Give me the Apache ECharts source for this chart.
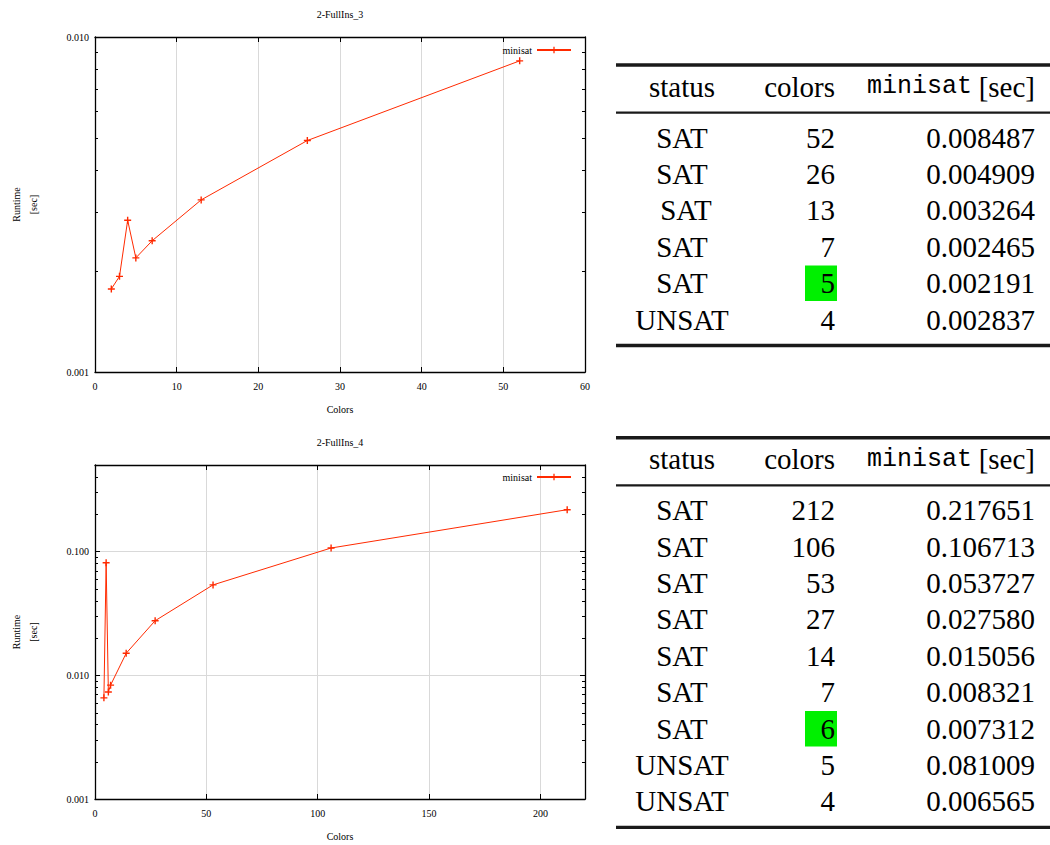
<!DOCTYPE html>
<html><head><meta charset="utf-8">
<script src="https://cdn.jsdelivr.net/npm/echarts@6/dist/echarts.min.js"></script>
<style>html,body{margin:0;padding:0;background:#fff;}#main{width:1050px;height:845px;}</style>
</head><body><div id="main"></div>
<script>
// ---------- texts ----------
const title1 = '2-FullIns_3';
const title2 = '2-FullIns_4';
const xName = 'Colors';
const yNameLine1 = 'Runtime';
const yNameLine2 = '[sec]';
const seriesName = 'minisat';

// ---------- chart data ----------
const chart1Colors = [2, 3, 4, 5, 7, 13, 26, 52];
const chart1Runtime = [0.00177, 0.00193, 0.002837, 0.002191, 0.002465, 0.003264, 0.004909, 0.008487];
const chart2Colors = [4, 5, 6, 7, 14, 27, 53, 106, 212];
const chart2Runtime = [0.006565, 0.081009, 0.007312, 0.008321, 0.015056, 0.027580, 0.053727, 0.106713, 0.217651];

// minor tick values of the log axes
const minorTicks1 = [0.002, 0.003, 0.004, 0.005, 0.006, 0.007, 0.008, 0.009];
const minorTicks2 = [0.002, 0.003, 0.004, 0.005, 0.006, 0.007, 0.008, 0.009,
                     0.02, 0.03, 0.04, 0.05, 0.06, 0.07, 0.08, 0.09,
                     0.2, 0.3, 0.4];

// ---------- table data ----------
const tableHeaderStatus = 'status';
const tableHeaderColors = 'colors';
const tableHeaderSolver = 'minisat';
const tableHeaderUnit = '[sec]';
const table1Status = ['SAT', 'SAT', 'SAT', 'SAT', 'SAT', 'UNSAT'];
const table1Colors = ['52', '26', '13', '7', '5', '4'];
const table1Runtime = ['0.008487', '0.004909', '0.003264', '0.002465', '0.002191', '0.002837'];
const table1HighlightRow = 4;
const table2Status = ['SAT', 'SAT', 'SAT', 'SAT', 'SAT', 'SAT', 'SAT', 'UNSAT', 'UNSAT'];
const table2Colors = ['212', '106', '53', '27', '14', '7', '6', '5', '4'];
const table2Runtime = ['0.217651', '0.106713', '0.053727', '0.027580', '0.015056', '0.008321', '0.007312', '0.081009', '0.006565'];
const table2HighlightRow = 6;

// ---------- styling ----------
const SERIF = 'Liberation Serif';
const MONO = 'Liberation Mono';
const LINE_COLOR = '#ff2a00';
const GRID_COLOR = '#d9d9d9';
const PLUS = 'path://M4,0H6V4H10V6H6V10H4V6H0V4H4Z';

const grids = [
  { left: 95, top: 37, width: 490, height: 335 },
  { left: 95, top: 465, width: 490, height: 334 }
];

function isPow10(v) {
  const l = Math.log10(v);
  return Math.abs(l - Math.round(l)) < 1e-6;
}

function xAxes(gridIndex, max, interval) {
  const common = {
    type: 'value', gridIndex, min: 0, max, interval,
    axisLine: { show: true, onZero: false, lineStyle: { color: '#000', width: 1.3 } },
    axisTick: { show: true, inside: true, length: 5, lineStyle: { color: '#000', width: 1 } }
  };
  return [
    Object.assign({}, common, {
      position: 'bottom',
      axisLabel: { show: true, margin: 9, fontFamily: SERIF, fontSize: 10, color: '#000', showMaxLabel: max % interval === 0 },
      splitLine: { show: true, lineStyle: { color: GRID_COLOR, width: 1 } }
    }),
    Object.assign({}, common, {
      position: 'top', axisLabel: { show: false }, splitLine: { show: false }
    })
  ];
}

function yAxes(gridIndex, min, max) {
  const common = {
    type: 'log', logBase: 10, gridIndex, min, max,
    axisLine: { show: true, onZero: false, lineStyle: { color: '#000', width: 1.3 } },
    axisTick: { show: true, inside: true, length: 5, lineStyle: { color: '#000', width: 1 } }
  };
  return [
    Object.assign({}, common, {
      position: 'left',
      axisLabel: {
        show: true, margin: 6, fontFamily: SERIF, fontSize: 10, color: '#000',
        formatter: v => isPow10(v) ? v.toFixed(3) : ''
      },
      splitLine: { show: true, lineStyle: { color: GRID_COLOR, width: 1 } }
    }),
    Object.assign({}, common, {
      position: 'right', axisLabel: { show: false }, splitLine: { show: false }
    })
  ];
}

function minorTickSeries(xIdx, yIdx, values) {
  return {
    type: 'custom', xAxisIndex: xIdx, yAxisIndex: yIdx, silent: true, z: 5,
    data: values.map(v => [0, v]),
    renderItem: function (params, api) {
      const p = api.coord([0, api.value(1)]);
      const cs = params.coordSys;
      const y = Math.round(p[1]) + 0.5;
      return {
        type: 'group',
        children: [
          { type: 'line', shape: { x1: cs.x, y1: y, x2: cs.x + 3, y2: y }, style: { stroke: '#000', lineWidth: 1 } },
          { type: 'line', shape: { x1: cs.x + cs.width - 3, y1: y, x2: cs.x + cs.width, y2: y }, style: { stroke: '#000', lineWidth: 1 } }
        ]
      };
    }
  };
}

function lineSeries(xIdx, yIdx, xs, ys) {
  return {
    name: seriesName, type: 'line', xAxisIndex: xIdx, yAxisIndex: yIdx, z: 10,
    data: xs.map((x, i) => [x, ys[i]]),
    symbol: PLUS, symbolSize: 7, showSymbol: true,
    lineStyle: { color: LINE_COLOR, width: 1 },
    itemStyle: { color: LINE_COLOR },
    emphasis: { disabled: true },
    animation: false
  };
}

// ---------- graphic texts ----------
const graphics = [];
function txt(text, x, y, opts) {
  graphics.push({
    type: 'text', x, y,
    style: Object.assign({ text, fill: '#000', fontFamily: SERIF, fontSize: 10, align: 'center', verticalAlign: 'middle' }, opts || {})
  });
}
function chartTexts(g, title, titleY, xNameY) {
  const cx = g.left + g.width / 2;
  const cy = g.top + g.height / 2;
  txt(title, cx, titleY);
  txt(xName, cx, xNameY);
  [[yNameLine1, 16], [yNameLine2, 33]].forEach(([t, x]) => {
    graphics.push({ type: 'text', x, y: cy, rotation: Math.PI / 2,
      style: { text: t, fill: '#000', fontFamily: SERIF, fontSize: 10, align: 'center', verticalAlign: 'middle' } });
  });
}
chartTexts(grids[0], title1, 14.5, 409);
chartTexts(grids[1], title2, 442.5, 836.5);

// ---------- tables ----------
const RULE_L = 616, RULE_R = 1050;
const STATUS_X = 682, COLORS_R = 835, TIME_R = 1035, SOLVER_R = 972;
const ROW_H = 36.4;
const BIG = { fontFamily: SERIF, fontSize: 29 };
function rect(x, y, w, h, fill) {
  graphics.push({ type: 'rect', shape: { x, y, width: w, height: h }, style: { fill } });
}
function table(top, status, colors, times, hiRow, statusOffsets) {
  rect(RULE_L, top - 1.7, RULE_R - RULE_L, 3.4, '#1a1a1a');
  const hy = top + 21.5;
  txt(tableHeaderStatus, STATUS_X, hy, BIG);
  txt(tableHeaderColors, COLORS_R, hy, Object.assign({ align: 'right' }, BIG));
  txt(tableHeaderUnit, TIME_R, hy, Object.assign({ align: 'right' }, BIG));
  txt(tableHeaderSolver, SOLVER_R, hy, { fontFamily: MONO, fontSize: 25, align: 'right' });
  rect(RULE_L, top + 46.5, RULE_R - RULE_L, 2.3, '#1a1a1a');
  const r0 = top + 72.5;
  status.forEach((s, i) => {
    const y = r0 + i * ROW_H;
    if (i === hiRow) rect(805, y - 17.5, 32, 35.5, '#00f000');
    txt(s, STATUS_X + (statusOffsets[i] || 0), y, BIG);
    txt(colors[i], COLORS_R, y, Object.assign({ align: 'right' }, BIG));
    txt(times[i], TIME_R, y, Object.assign({ align: 'right' }, BIG));
  });
  const bottom = r0 + (status.length - 1) * ROW_H + 26;
  rect(RULE_L, bottom - 1.7, RULE_R - RULE_L, 3.4, '#1a1a1a');
}
table(65, table1Status, table1Colors, table1Runtime, table1HighlightRow, { 2: 4 });
table(437.7, table2Status, table2Colors, table2Runtime, table2HighlightRow, {});

const legendCommon = {
  data: [seriesName], align: 'right', itemWidth: 34, itemHeight: 8, itemGap: 0, padding: 0,
  selectedMode: false,
  textStyle: { fontFamily: SERIF, fontSize: 10, color: '#000' }
};

const option = {
  backgroundColor: '#fff',
  animation: false,
  textStyle: { fontFamily: SERIF },
  grid: grids.map(g => Object.assign({ show: false, containLabel: false }, g)),
  xAxis: [].concat(xAxes(0, 60, 10), xAxes(1, 220, 50)),
  yAxis: [].concat(yAxes(0, 0.001, 0.01), yAxes(1, 0.001, 0.5)),
  legend: [
    Object.assign({}, legendCommon, { right: 478, top: 45 }),
    Object.assign({}, legendCommon, { right: 478, top: 472 })
  ],
  series: [
    lineSeries(0, 0, chart1Colors, chart1Runtime),
    lineSeries(2, 2, chart2Colors, chart2Runtime),
    minorTickSeries(0, 0, minorTicks1),
    minorTickSeries(2, 2, minorTicks2)
  ],
  graphic: graphics
};

const chart = echarts.init(document.getElementById('main'), null, { renderer: 'svg', width: 1050, height: 845 });
chart.setOption(option);
</script></body></html>
